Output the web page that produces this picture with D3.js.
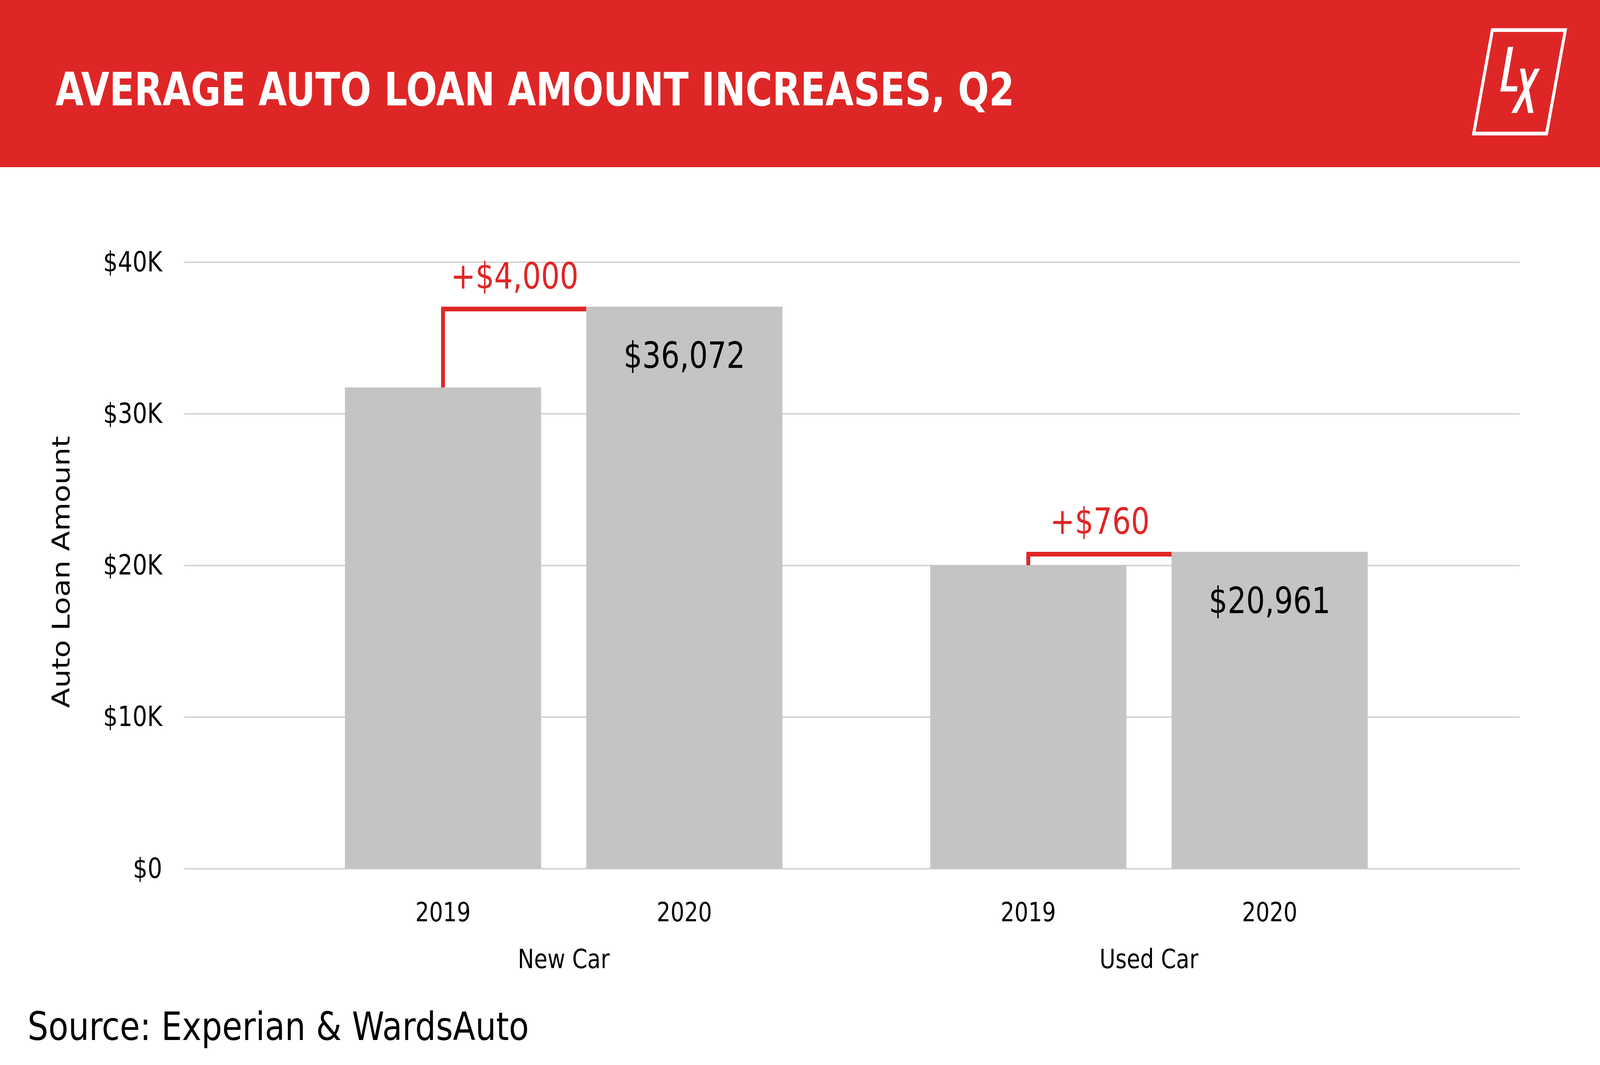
<!DOCTYPE html>
<html>
<head>
<meta charset="utf-8">
<script src="https://cdn.jsdelivr.net/npm/d3@7/dist/d3.min.js"></script>
<style>
  html, body { margin: 0; padding: 0; background: #ffffff; overflow: hidden; width: 100%; height: 100%; }
  svg { display: block; position: absolute; left: 0; top: 0; width: 100vw; height: 100vh; }
  text { font-family: "DejaVu Sans", "Noto Sans", sans-serif; }
</style>
</head>
<body>
<svg id="chart" viewBox="0 0 5000 2727" preserveAspectRatio="none"></svg>
<script>
// ---- data ----
const groups = ["New Car", "Used Car"];
const years = ["2019", "2020"];
const newCarValues = [31730, 37060];
const usedCarValues = [20000, 20890];
const latestLabels = ["$36,072", "$20,961"];
const changeLabels = ["+$4,000", "+$760"];
const yTicks = [0, 10000, 20000, 30000, 40000];
const yTickLabels = ["$0", "$10K", "$20K", "$30K", "$40K"];
const titleText = "AVERAGE AUTO LOAN AMOUNT INCREASES, Q2";
const yTitle = "Auto Loan Amount";
const sourceText = "Source: Experian & WardsAuto";

const seriesByGroup = [newCarValues, usedCarValues];
const rows = groups.map((g, gi) => ({
  group: g,
  bars: years.map((yr, yi) => ({ year: yr, value: seriesByGroup[gi][yi] })),
  latest: latestLabels[gi],
  change: changeLabels[gi]
}));

// ---- layout ----
const W = 5000, H = 2727;
const RED = "#df2626";
const BAR = "#c4c4c4";
const GRID = "#d0d0d0";
const plotLeft = 576, plotRight = 4749;

const svg = d3.select("#chart");

// header
svg.append("rect").attr("x", 0).attr("y", 0).attr("width", W).attr("height", 428).attr("fill", RED);
svg.append("text")
  .attr("x", 173).attr("y", 270)
  .attr("fill", "#ffffff")
  .attr("font-weight", "bold")
  .attr("font-size", 117)
  .attr("textLength", 2997)
  .attr("lengthAdjust", "spacingAndGlyphs")
  .text(titleText);

// logo
const logo = svg.append("g").attr("transform", "translate(4500,0) scale(0.3333333)");
logo.append("polygon")
  .attr("points", "491,231 1175,231 999,1026 316,1026")
  .attr("fill", "none").attr("stroke", "#ffffff").attr("stroke-width", 28).attr("stroke-linejoin", "miter");
logo.append("polygon")
  .attr("points", "637,360 686,360 621,662 727,662 720,703 565,703")
  .attr("fill", "#ffffff");
logo.append("polygon")
  .attr("points", "750,527 797,527 876,868 826,868")
  .attr("fill", "#ffffff");
logo.append("polygon")
  .attr("points", "888,527 937,527 720,868 669,868")
  .attr("fill", "#ffffff");

// scales
const y = d3.scaleLinear().domain([0, 40000]).range([2224, 671]);
const x0 = d3.scaleBand().domain(groups).range([847, 4505]).padding(0);
const x1 = d3.scaleBand().domain(years).range([0, x0.bandwidth()]).paddingInner(0.187).paddingOuter(0.306);

// grid / y axis
const yAxis = d3.axisLeft(y)
  .tickValues(yTicks)
  .tickSize(-(plotRight - plotLeft))
  .tickPadding(69)
  .tickFormat((d, i) => yTickLabels[i]);
const gy = svg.append("g").attr("transform", `translate(${plotLeft},0)`).call(yAxis);
gy.select(".domain").remove();
gy.selectAll(".tick line").attr("stroke", GRID).attr("stroke-width", 3.5);
gy.selectAll(".tick text")
  .attr("font-size", 72)
  .attr("fill", "#000000")
  .attr("font-family", "'DejaVu Sans', sans-serif");

// y title
svg.append("text")
  .attr("transform", `translate(217,${(y(0) + y(40000)) / 2 + 17}) rotate(-90)`)
  .attr("text-anchor", "middle")
  .attr("font-size", 75)
  .attr("fill", "#000000")
  .text(yTitle);

// bars
const gGroups = svg.append("g").selectAll("g.grp").data(rows).join("g")
  .attr("class", "grp")
  .attr("transform", d => `translate(${x0(d.group)},0)`);

gGroups.selectAll("rect").data(d => d.bars).join("rect")
  .attr("x", d => x1(d.year))
  .attr("y", d => y(d.value))
  .attr("width", x1.bandwidth())
  .attr("height", d => y(0) - y(d.value))
  .attr("fill", BAR);

// latest value labels (inside 2020 bar)
gGroups.append("text")
  .attr("x", x1(years[1]) + x1.bandwidth() / 2)
  .attr("y", d => y(d.bars[1].value) + 157)
  .attr("text-anchor", "middle")
  .attr("font-size", 92)
  .attr("fill", "#000000")
  .text(d => d.latest);

// change brackets
const SW = 12;
gGroups.append("path")
  .attr("d", d => {
    const cx = x1(years[0]) + x1.bandwidth() / 2;
    const yTop0 = y(d.bars[0].value);
    const yLine = y(d.bars[1].value) + SW / 2;
    const xEnd = x1(years[1]);
    return `M${cx},${yTop0}V${yLine}H${xEnd}`;
  })
  .attr("fill", "none")
  .attr("stroke", RED)
  .attr("stroke-width", SW)
  .attr("stroke-linejoin", "miter")
  .attr("stroke-linecap", "butt");

gGroups.append("text")
  .attr("x", ((x1(years[0]) + x1.bandwidth() / 2) + x1(years[1])) / 2)
  .attr("y", d => y(d.bars[1].value) - 46)
  .attr("text-anchor", "middle")
  .attr("font-size", 92)
  .attr("fill", RED)
  .text(d => d.change);

// x labels
gGroups.selectAll("text.year").data(d => d.bars).join("text")
  .attr("class", "year")
  .attr("x", d => x1(d.year) + x1.bandwidth() / 2)
  .attr("y", 2359)
  .attr("text-anchor", "middle")
  .attr("font-size", 68)
  .attr("fill", "#000000")
  .text(d => d.year);

gGroups.append("text")
  .attr("x", x0.bandwidth() / 2)
  .attr("y", 2479)
  .attr("text-anchor", "middle")
  .attr("font-size", 68)
  .attr("fill", "#000000")
  .text(d => d.group);

// source
svg.append("text")
  .attr("x", 86).attr("y", 2663)
  .attr("font-size", 99)
  .attr("fill", "#000000")
  .attr("textLength", 1567)
  .attr("lengthAdjust", "spacingAndGlyphs")
  .text(sourceText);
</script>
</body>
</html>
